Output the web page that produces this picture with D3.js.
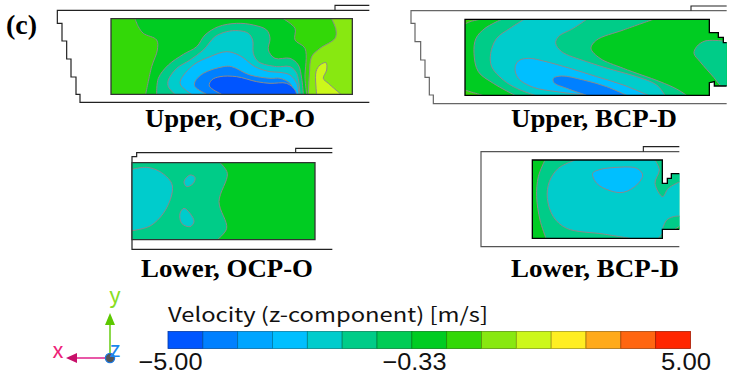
<!DOCTYPE html>
<html>
<head>
<meta charset="utf-8">
<script src="https://cdn.jsdelivr.net/npm/d3@7"></script>
<style>
  html, body { margin: 0; padding: 0; background: #fff; }
  svg { display: block; }
  .panel-label { font-family: "Liberation Serif", serif; font-weight: bold; font-size: 25px; fill: #000; }
  .legend-title { font-family: "Noto Sans CJK JP", "DejaVu Sans", sans-serif; fill: #111; }
  .legend-tick { font-family: "Liberation Sans", sans-serif; fill: #111; }
</style>
</head>
<body>
<div id="chart"></div>
<script>
// Colour bands of the velocity legend, lowest to highest
const bandColors = ['#0055ff', '#0080ff', '#00a5ff', '#00bfff', '#00cccc', '#00cc88', '#00cc55', '#00cc22',
  '#33d808', '#88e811', '#ccf81a', '#ffee22', '#ffaa1a', '#ff6611', '#ff2600'];
const tickValues = [-5, -0.33, 5];
const legendTitle = 'Velocity (z-component) [m/s]';

// Band index used by each contour region
const DEEP = 0, BLUE = 1, SKY = 3, TEAL = 4, MINT = 5, GREEN = 7, LIME = 8, LIGHT = 9, YELLOW = 10;

// Contours are in panel units (3 units = 1 px), [x, y]
// Upper, OCP-O
const upperOcpBox = [[333,56],[1057,56],[1057,283],[333,283]];
const upperOcpCasing = [[1108,31],[172,31],[172,70],[186,70],[186,123],[200,123],[200,177],[213,177],[213,231],[228,231],[228,283],[240,283],[240,307],[1108,307]];
const upperOcpInlet = [[1108,16],[1005,16],[1005,31]];
const upperOcpLeft = [[405,56],[415,80],[430,100],[470,120],[472,150],[455,200],[437,283]];
const upperOcpRightA = [[848,55],[885,85],[885,120],[915,145],[915,235],[920,283]];
const upperOcpRightB = [[995,57],[1008,90],[1005,115],[960,145],[935,170],[928,225],[925,283]];
const upperOcpSpot = [[950,283],[948,215],[960,195],[978,188],[980,210],[970,235],[985,250],[1023,283]];
const upperOcpMint = [[470,283],[475,235],[505,195],[550,163],[590,140],[615,105],[655,80],[710,70],[760,75],[800,90],[810,115],[805,150],[825,175],[870,175],[895,195],[905,235],[910,283]];
const upperOcpTeal = [[525,283],[505,260],[505,240],[530,205],[570,180],[610,150],[645,110],[680,95],[715,92],[745,100],[758,120],[760,160],[775,185],[830,200],[870,200],[890,220],[900,283]];
const upperOcpSky = [[575,283],[542,255],[542,240],[580,195],[630,170],[680,155],[720,167],[765,200],[810,215],[840,217],[870,225],[890,250],[897,283]];
const upperOcpBlue = [[620,283],[585,260],[585,245],[610,220],[670,200],[695,200],[750,225],[810,235],[840,235],[870,250],[885,283]];
const upperOcpDeep = [[665,283],[628,258],[635,240],[660,230],[710,230],[770,245],[810,250],[860,250],[885,270],[890,283]];

// Upper, BCP-D (box starts and ends on the open right side)
const upperBcpBox = [[1070,258],[1033,258],[1033,245],[1018,248],[1018,286],[285,286],[285,58],[1018,58],[1018,98],[1045,98],[1045,112],[1060,112],[1060,128],[1070,128]];
const upperBcpCasing = [[1070,32],[123,32],[123,70],[135,70],[135,125],[152,125],[152,180],[165,180],[165,232],[178,232],[178,285],[190,285],[190,311],[1070,311]];
const upperBcpInlet = [[1070,18],[963,18],[963,32]];
const upperBcpCornerTop = [[285,72],[300,65],[330,58]];
const upperBcpCornerLow = [[285,270],[300,275],[338,286]];
const upperBcpMintLeft = [[395,58],[345,85],[318,115],[312,160],[325,215],[370,250],[435,286]];
const upperBcpTealLeft = [[462,58],[420,85],[380,115],[362,160],[365,200],[400,240],[440,265],[495,286]];
const upperBcpMintRight = [[650,58],[610,85],[565,110],[557,130],[575,155],[650,185],[730,210],[800,230],[860,255],[885,286]];
const upperBcpWedge = [[850,58],[760,90],[680,120],[663,145],[690,175],[760,205],[870,245],[920,267],[950,286]];
const upperBcpBlob = [[1060,123],[1005,123],[980,140],[972,160],[990,185],[1032,233],[1050,255],[1055,258]];
const upperBcpSky = [[650,286],[560,275],[490,262],[445,235],[435,205],[445,183],[475,175],[520,183],[600,205],[680,230],[760,255],[835,286]];
const upperBcpBlue = [[650,286],[590,265],[552,248],[550,235],[575,228],[640,240],[710,260],[770,286]];

// Lower, OCP-O
const lowerOcpBox = [[66,68],[615,68],[615,299],[66,299]];
const lowerOcpCasing = [[667,38],[80,38],[80,50],[66,50],[66,328],[667,328]];
const lowerOcpInlet = [[667,25],[557,25],[557,38]];
const lowerOcpMint = [[330,68],[352,100],[327,185],[350,265],[322,299]];
const lowerOcpTeal = [[66,88],[110,82],[150,95],[185,130],[185,165],[160,220],[120,258],[66,272]];
const lowerOcpIslandTop = [[222,125],[240,105],[255,112],[250,130],[230,140]];
const lowerOcpIslandLow = [[210,220],[222,205],[240,220],[252,245],[240,260],[215,250]];

// Lower, BCP-D (box starts and ends on the open right side)
const lowerBcpBox = [[628,268],[577,268],[577,295],[187,295],[187,60],[577,60],[577,130],[592,130],[592,115],[604,115],[604,101],[628,101]];
const lowerBcpCasing = [[628,35],[33,35],[33,320],[628,320]];
const lowerBcpInlet = [[628,20],[520,20],[520,35]];
const lowerBcpMint = [[225,60],[205,110],[200,170],[210,240],[228,295]];
const lowerBcpTeal = [[315,60],[265,85],[238,125],[232,175],[250,230],[290,265],[400,282],[480,295]];
const lowerBcpMintTop = [[555,60],[568,90],[555,130],[578,170],[595,145],[630,125]];
const lowerBcpMintLow = [[578,265],[590,240],[610,230],[630,228]];
const lowerBcpMintFoot = [[578,280],[565,295]];
const lowerBcpGreenFoot = [[615,267],[630,258]];
const lowerBcpSky = [[368,100],[385,90],[440,82],[500,85],[518,105],[500,135],[460,157],[420,152],[380,130]];

const panels = [
  {
    label: 'Upper, OCP-O', labelX: 145, labelY: 127, labelW: 170, ox: 0, oy: 0,
    box: upperOcpBox, casing: upperOcpCasing, inlet: upperOcpInlet, boxStroke: '#333', casingStroke: '#222',
    regions: [
      {band: LIME, line: upperOcpLeft, corners: [[333,283],[333,56]]},
      {band: LIME, line: upperOcpRightA, corners: [[1057,283],[1057,56]]},
      {band: LIGHT, line: upperOcpRightB, corners: [[1057,283],[1057,56]]},
      {band: YELLOW, line: upperOcpSpot},
      {band: MINT, line: upperOcpMint},
      {band: TEAL, line: upperOcpTeal},
      {band: SKY, line: upperOcpSky},
      {band: BLUE, line: upperOcpBlue},
      {band: DEEP, line: upperOcpDeep}
    ]
  },
  {
    label: 'Upper, BCP-D', labelX: 511, labelY: 127, labelW: 166, ox: 370, oy: 0, openBox: true,
    box: upperBcpBox, casing: upperBcpCasing, inlet: upperBcpInlet, boxStroke: '#000', casingStroke: '#666',
    regions: [
      {band: LIME, line: upperBcpCornerTop, corners: [[285,58]]},
      {band: LIME, line: upperBcpCornerLow, corners: [[285,286]]},
      {band: MINT, line: upperBcpMintLeft, corners: [[1075,286],[1075,58]]},
      {band: TEAL, line: upperBcpTealLeft, corners: [[1075,286],[1075,58]]},
      {band: MINT, line: upperBcpMintRight, corners: [[1075,286],[1075,58]]},
      {band: GREEN, line: upperBcpWedge, corners: [[1075,286],[1075,58]]},
      {band: MINT, line: upperBcpBlob, corners: [[1075,258],[1075,123]]},
      {band: SKY, line: upperBcpSky},
      {band: BLUE, line: upperBcpBlue}
    ]
  },
  {
    label: 'Lower, OCP-O', labelX: 141, labelY: 277, labelW: 172, ox: 110, oy: 140,
    box: lowerOcpBox, casing: lowerOcpCasing, inlet: lowerOcpInlet, boxStroke: '#333', casingStroke: '#222',
    regions: [
      {band: MINT, line: lowerOcpMint, corners: [[66,299],[66,68]]},
      {band: TEAL, line: lowerOcpTeal},
      {band: TEAL, line: lowerOcpIslandTop, closed: true},
      {band: TEAL, line: lowerOcpIslandLow, closed: true}
    ]
  },
  {
    label: 'Lower, BCP-D', labelX: 511, labelY: 277, labelW: 168, ox: 470, oy: 140, openBox: true,
    box: lowerBcpBox, casing: lowerBcpCasing, inlet: lowerBcpInlet, boxStroke: '#000', casingStroke: '#555',
    regions: [
      {band: MINT, line: lowerBcpMint, corners: [[640,295],[640,60]]},
      {band: TEAL, line: lowerBcpTeal, corners: [[640,295],[640,60]]},
      {band: MINT, line: lowerBcpMintTop, corners: [[640,125],[640,60]]},
      {band: MINT, line: lowerBcpMintLow, corners: [[640,228],[640,268],[578,268]]},
      {band: MINT, line: lowerBcpMintFoot, corners: [[578,295]]},
      {band: GREEN, line: lowerBcpGreenFoot, corners: [[630,268]]},
      {band: SKY, line: lowerBcpSky, closed: true}
    ]
  }
];

const width = 732, height = 375;
const svg = d3.select('#chart').append('svg')
    .attr('width', width)
    .attr('height', height)
    .attr('viewBox', `0 0 ${width} ${height}`);

svg.append('text')
    .attr('class', 'panel-label')
    .attr('x', 6)
    .attr('y', 34)
    .style('font-size', '28px')
    .text('(c)');

// Draw one contour panel
function drawPanel(p, i) {
  // panel units -> page pixels
  const x = d3.scaleLinear().domain([0, 3]).range([p.ox, p.ox + 1]);
  const y = d3.scaleLinear().domain([0, 3]).range([p.oy, p.oy + 1]);
  const straight = d3.line().x(d => x(d[0])).y(d => y(d[1]));
  const smooth = d3.line().x(d => x(d[0])).y(d => y(d[1])).curve(d3.curveCatmullRom.alpha(0.5));
  const loop = d3.line().x(d => x(d[0])).y(d => y(d[1])).curve(d3.curveCatmullRomClosed.alpha(0.5));

  const g = svg.append('g').attr('class', 'panel');

  g.append('clipPath').attr('id', `clip-${i}`)
    .append('path').attr('d', straight(p.box) + 'Z');

  g.append('path')
      .attr('d', straight(p.casing))
      .attr('fill', 'none')
      .attr('stroke', p.casingStroke)
      .attr('stroke-width', 1.2);
  g.append('path')
      .attr('d', straight(p.inlet))
      .attr('fill', 'none')
      .attr('stroke', '#222')
      .attr('stroke-width', 1.1);

  const field = g.append('g').attr('clip-path', `url(#clip-${i})`);
  field.append('path')
      .attr('d', straight(p.box) + 'Z')
      .attr('fill', bandColors[GREEN]);

  p.regions.forEach(r => {
    const gen = r.closed ? loop : smooth;
    const corners = (r.corners || []).map(c => `L${x(c[0])},${y(c[1])}`).join('');
    field.append('path')
        .attr('d', gen(r.line) + corners + 'Z')
        .attr('fill', bandColors[r.band]);
    field.append('path')
        .attr('d', gen(r.line))
        .attr('fill', 'none')
        .attr('stroke', '#8a8a8a')
        .attr('stroke-width', 1);
  });

  g.append('path')
      .attr('d', straight(p.box) + (p.openBox ? '' : 'Z'))
      .attr('fill', 'none')
      .attr('stroke', p.boxStroke)
      .attr('stroke-width', 1.3);

  g.append('text')
      .attr('class', 'panel-label')
      .attr('x', p.labelX)
      .attr('y', p.labelY)
      .attr('textLength', p.labelW)
      .attr('lengthAdjust', 'spacingAndGlyphs')
      .text(p.label);
}
panels.forEach(drawPanel);

// Legend
const legendX = d3.scaleLinear().domain([-5, 5]).range([168, 690.5]);
const bandX = d3.scaleBand().domain(d3.range(bandColors.length)).range(legendX.range());

const legend = svg.append('g').attr('class', 'legend');
legend.selectAll('.legend-cell')
    .data(bandColors)
  .join('rect')
    .attr('class', 'legend-cell')
    .attr('x', (d, i) => bandX(i))
    .attr('y', 331.5)
    .attr('width', bandX.bandwidth())
    .attr('height', 17)
    .attr('fill', d => d)
    .attr('stroke', d => d3.color(d).darker(1.2))
    .attr('stroke-width', 0.8);

legend.append('text')
    .attr('class', 'legend-title')
    .attr('x', 168)
    .attr('y', 322)
    .attr('font-size', 20)
    .attr('textLength', 320)
    .attr('lengthAdjust', 'spacingAndGlyphs')
    .text(legendTitle);

const axis = d3.axisBottom(legendX)
    .tickValues(tickValues)
    .tickSize(0)
    .tickPadding(0)
    .tickFormat(d3.format('.2f'));
const axisG = legend.append('g')
    .attr('transform', 'translate(0,352)')
    .call(axis);
axisG.select('.domain').remove();
axisG.selectAll('text')
    .attr('class', 'legend-tick')
    .attr('font-size', 23.5)
    .attr('font-family', null)
    .attr('dy', null)
    .attr('y', 18)
    .attr('dx', d => d === 5 ? -5 : 2)
    .attr('textLength', d => d === 5 ? 50 : 64)
    .attr('lengthAdjust', 'spacingAndGlyphs');

// Coordinate triad
const triad = svg.append('g').attr('class', 'triad');
const origin = [110, 358];
const yAxisColor = '#5cc800', xAxisColor = '#c8106a';
triad.append('line')
    .attr('x1', origin[0]).attr('y1', origin[1])
    .attr('x2', origin[0]).attr('y2', origin[1] - 35)
    .attr('stroke', '#66cc11').attr('stroke-width', 1.5);
triad.append('path')
    .attr('d', d3.line()([[origin[0] - 5, origin[1] - 33], [origin[0] + 5, origin[1] - 33], [origin[0], origin[1] - 45]]) + 'Z')
    .attr('fill', yAxisColor);
triad.append('line')
    .attr('x1', origin[0]).attr('y1', origin[1])
    .attr('x2', origin[0] - 35).attr('y2', origin[1])
    .attr('stroke', '#e0208a').attr('stroke-width', 1.5);
triad.append('path')
    .attr('d', d3.line()([[origin[0] - 33, origin[1] - 5], [origin[0] - 33, origin[1] + 5], [origin[0] - 44, origin[1]]]) + 'Z')
    .attr('fill', xAxisColor);
triad.append('circle')
    .attr('cx', origin[0]).attr('cy', origin[1])
    .attr('r', 4.6)
    .attr('fill', '#555')
    .attr('stroke', '#1a78e0')
    .attr('stroke-width', 1.3);

const triadLabels = [
  {t: 'y', x: 115, y: 303, c: '#88dd22'},
  {t: 'x', x: 58, y: 358, c: '#ee2277'},
  {t: 'z', x: 115, y: 357, c: '#1a88ee'}
];
triad.selectAll('.triad-label')
    .data(triadLabels)
  .join('text')
    .attr('class', 'triad-label')
    .attr('x', d => d.x)
    .attr('y', d => d.y)
    .attr('text-anchor', 'middle')
    .attr('font-family', 'Noto Sans CJK JP, sans-serif')
    .attr('font-size', 22)
    .attr('fill', d => d.c)
    .text(d => d.t);
</script>
</body>
</html>
